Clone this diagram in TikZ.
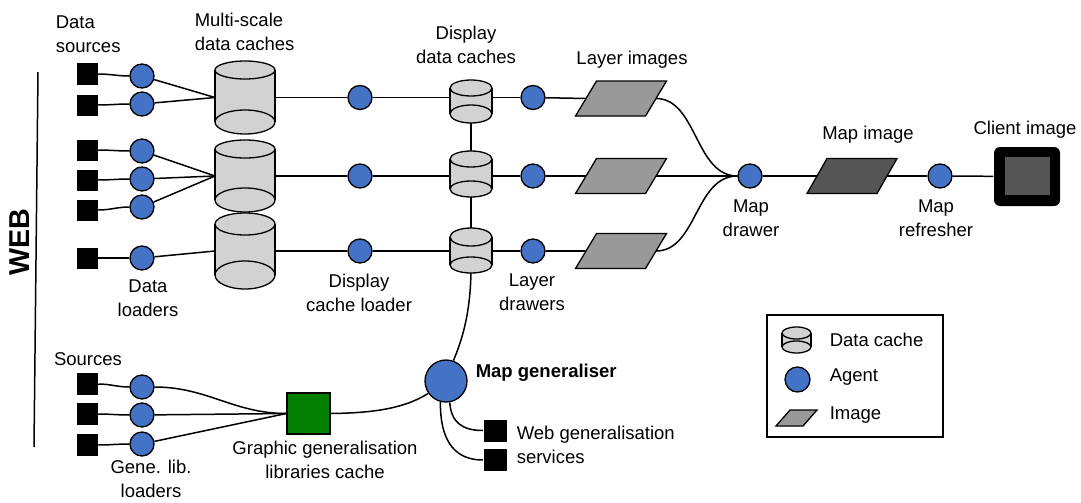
\documentclass[tikz,border=0pt]{standalone}
\usepackage{fontspec}
\setmainfont{Liberation Sans}
\definecolor{agentblue}{HTML}{4472C4}
\definecolor{cachegrey}{HTML}{D2D2D2}
\definecolor{layergrey}{HTML}{999999}
\definecolor{mapgrey}{HTML}{555555}
\definecolor{libgreen}{HTML}{007F00}

% data cache drawn as an open cylinder with a named node over its body
% #1 name, #2 centre x, #3 top y, #4 bottom y, #5 half width, #6 top radius, #7 bottom radius
\newcommand{\datacache}[7]{%
  \fill[cachegrey] (#2,#3+#6) ellipse [x radius=#5, y radius=#6];
  \fill[cachegrey] (#2-#5,#3+#6) rectangle (#2+#5,#4-#7);
  \fill[cachegrey] (#2,#4-#7) ellipse [x radius=#5, y radius=#7];
  \draw[cacheline] (#2,#3+#6) ellipse [x radius=#5, y radius=#6];
  \draw[cacheline] (#2,#4-#7) ellipse [x radius=#5, y radius=#7];
  \draw[cacheline] (#2-#5,#3+#6) -- (#2-#5,#4-#7) (#2+#5,#3+#6) -- (#2+#5,#4-#7);
  \node[inner sep=0, outer sep=0, minimum width={2*#5*1pt}, minimum height={(#4-#3)*1pt}] (#1) at (#2,{(#3+#4)/2}) {};
}

% image drawn as a parallelogram; #1-l and #1-r are the midpoints of its slanted sides
% #1 name, #2 centre x, #3 centre y, #4 edge width, #5 height, #6 skew, #7 fill colour
\newcommand{\imagebox}[7]{%
  \filldraw[fill=#7, line width=1.3pt]
    (#2-#4/2-#6/2,#3+#5/2) -- (#2+#4/2-#6/2,#3+#5/2) -- (#2+#4/2+#6/2,#3-#5/2) -- (#2-#4/2+#6/2,#3-#5/2) -- cycle;
  \node[inner sep=0, outer sep=0, minimum width={(#4+#6)*1pt}, minimum height={#5*1pt}] (#1) at (#2,#3) {};
  \coordinate (#1-l) at (#2-#4/2,#3);
  \coordinate (#1-r) at (#2+#4/2,#3);
}

\begin{document}
\begin{tikzpicture}[x=1pt, y=-1pt, line width=1.5pt,
  cacheline/.style={line width=1.3pt},
  lbl/.style={font=\fontsize{18.5}{24}\selectfont, inner sep=0, align=center},
  lbll/.style={lbl, align=left},
  agent/.style={circle, draw, fill=agentblue, minimum size=24pt, inner sep=0, line width=1.3pt},
  srcbox/.style={rectangle, fill=black, minimum width=21pt, minimum height=21pt, inner sep=0},
]
\useasboundingbox (0,0) rectangle (1081,503);

% ---- WEB separator
\node[font=\bfseries\fontsize{28.7}{30}\selectfont, rotate=90, inner sep=0] (web) at (20,242) {WEB};
\coordinate (webtop) at (38,72);
\coordinate (webbot) at (34,447);
\draw (webtop) -- (webbot);

% ---- data sources and data loaders
\foreach \n/\y in {1/74,2/105,3/150,4/180,5/210,6/258}
  \node[srcbox] (s\n) at (87,\y) {};
\foreach \n/\y in {1/76,2/104,3/151,4/179,5/207,6/258}
  \node[agent] (a\n) at (142,\y) {};

% ---- multi-scale data caches
\datacache{cA}{245}{61}{134}{30}{9}{12}
\datacache{cB}{245}{140}{212}{30}{9}{12}
\datacache{cC}{245}{213}{289}{30}{11}{14}

\foreach \n in {1,...,6}
  \draw (s\n.east) to[out=0,in=180] (a\n.west);
\draw (a1) -- (cA.west);
\draw (a2) -- (cA.west);
\draw (a3) -- (cB.west);
\draw (a4) -- (cB.west);
\draw (a5) -- (cB.west);
\draw (a6) -- (cC.west);

% ---- display cache loaders
\node[agent] (cl1) at (360,97.5) {};
\node[agent] (cl2) at (360,176) {};
\node[agent] (cl3) at (360,251) {};
\draw (cA.east) -- (cl1);
\draw (cB.east) -- (cl2);
\draw (cC.east) -- (cl3);

% ---- display data caches
\datacache{d1}{471}{80}{123}{21}{8}{9}
\datacache{d2}{471}{151}{197}{21}{8}{8}
\datacache{d3}{471}{228}{273}{21}{9}{8}
\draw (d1.south) -- (d2.north);
\draw (d2.south) -- (d3.north);
\draw (cl1) -- (d1.west |- cl1);
\draw (cl2) -- (d2.west |- cl2);
\draw (cl3) -- (d3.west |- cl3);

% ---- layer drawers and layer images
\node[agent] (ld1) at (533,97.5) {};
\node[agent] (ld2) at (533,176) {};
\node[agent] (ld3) at (533,251) {};
\draw (d1.east |- ld1) -- (ld1);
\draw (d2.east |- ld2) -- (ld2);
\draw (d3.east |- ld3) -- (ld3);

\imagebox{li1}{621}{98.5}{70}{35}{21}{layergrey}
\imagebox{li2}{621}{176}{70}{35}{21}{layergrey}
\imagebox{li3}{621}{251}{70}{35}{21}{layergrey}
\draw (ld1) -- (li1-l);
\draw (ld2) -- (li2-l);
\draw (ld3) -- (li3-l);

% ---- map drawer, map image, refresher, client
\node[agent] (md) at (750,176) {};
\draw (li1-r) .. controls (697,98.5) and (695,176) .. (md.west);
\draw (li2-r) -- (md.west);
\draw (li3-r) .. controls (697,251) and (695,176) .. (md.west);

\imagebox{mi}{852}{176}{70}{35}{20}{mapgrey}
\node[agent] (mr) at (940,176) {};
\node[fill=black, rounded corners=6pt, minimum width=66pt, minimum height=59pt, inner sep=0] (ci) at (1027,176.5) {};
\node[fill=mapgrey, minimum width=45pt, minimum height=38pt, inner sep=0] (cin) at (1027.5,176) {};
\draw (md) -- (mi-l);
\draw (mi-r) -- (mr);
\draw (mr) -- (ci);

% ---- generalisation part
\foreach \n/\y in {1/384,2/414,3/445}
  \node[srcbox, minimum height=22pt] (g\n) at (87,\y) {};
\foreach \n/\y in {1/387,2/415,3/444}
  \node[agent] (ga\n) at (142,\y) {};
\node[draw, fill=libgreen, minimum width=43pt, minimum height=41pt, inner sep=0, line width=1.3pt] (lib) at (308.5,413.5) {};
\foreach \n in {1,2,3}
  \draw (g\n.east) to[out=0,in=180] (ga\n.west);
\draw (ga1.east) to[out=0,in=180] (lib.west);
\draw (ga2) -- (lib.west);
\draw (ga3) -- (lib.west);

\node[circle, draw, fill=agentblue, minimum width=42pt, minimum height=41pt, inner sep=0, line width=1.3pt] (mg) at (446,381) {};
\draw (d3.south) .. controls (470,315) and (462,340) .. (mg.70);
\draw (lib.east) .. controls (375,413) and (405,408) .. (mg.215);

\node[srcbox, minimum width=23pt, minimum height=22pt] (w1) at (495,430.5) {};
\node[srcbox, minimum width=23pt, minimum height=22pt] (w2) at (495,460) {};
\draw (mg.-80) .. controls (451,422) and (462,430.5) .. (w1.west);
\draw (mg.-105) .. controls (440,445) and (458,460) .. (w2.west);

% ---- labels
\node[lbll, anchor=west] (tsrc) at (55,34) {Data\\sources};
\node[lbll, anchor=west] (tms) at (194,31.5) {Multi-scale\\data caches};
\node[lbl] (tdd) at (466,45) {Display\\data caches};
\node[lbl] (tli) at (632,60) {Layer images};
\node[lbl] (tdl) at (148,298) {Data\\loaders};
\node[lbl] (tdcl) at (359,293) {Display\\cache loader};
\node[lbl] (tld) at (532,292) {Layer\\drawers};
\node[lbl] (tmd) at (751,218) {Map\\drawer};
\node[lbl] (tmi) at (868,135) {Map image};
\node[lbl] (tmr) at (936,218) {Map\\refresher};
\node[lbl] (tci) at (1025,130) {Client image};
\node[lbl] (tsc) at (88,359) {Sources};
\node[lbl] (tgl) at (151,479) {Gene. lib.\\loaders};
\node[lbl] (tggl) at (325,460) {Graphic generalisation\\libraries cache};
\node[lbl, font=\bfseries\fontsize{18.5}{24}\selectfont, anchor=west] (tmg) at (475,373) {Map generaliser};
\node[lbll, anchor=west] (twg) at (516,445) {Web generalisation\\services};

% ---- legend
\node[draw, line width=1.3pt, minimum width=176pt, minimum height=122pt, inner sep=0] (legend) at (855,376) {};
\datacache{lgc}{796.5}{327}{353}{14.5}{6}{6}
\node[agent, minimum size=25pt] (lga) at (797.5,379.5) {};
\imagebox{lgi}{796.5}{418}{27}{16}{14}{layergrey}
\node[lbl, anchor=west] (tlc) at (829,340) {Data cache};
\node[lbl, anchor=west] (tla) at (829,377) {Agent};
\node[lbl, anchor=west] (tlim) at (829,415) {Image};
\end{tikzpicture}
\end{document}
